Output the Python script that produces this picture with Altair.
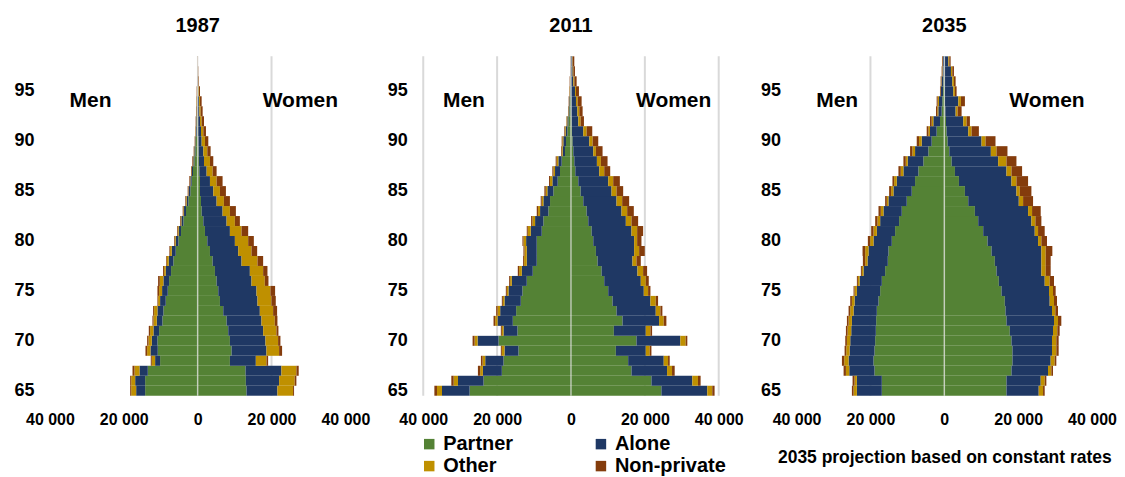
import altair as alt
import pandas as pd

FONT = "Liberation Sans, Arial, sans-serif"

ages = [65, 66, 67, 68, 69, 70, 71, 72, 73, 74, 75, 76, 77, 78, 79, 80, 81,
        82, 83, 84, 85, 86, 87, 88, 89, 90, 91, 92, 93, 94, 95, 96, 97, 98]
categories = ["Partner", "Alone", "Other", "Non-private"]
colors = ["#548235", "#1F3864", "#BF9000", "#843C0C"]
years = ["1987", "2011", "2035"]
x_ticks = [-40000, -20000, 0, 20000, 40000]
y_ticks = [65, 70, 75, 80, 85, 90, 95]

# ---- 1987 ----
men_1987_partner = [14220, 14220, 13500, 10170, 10800, 10890, 10440, 9540, 9270, 8640, 8100, 7740, 7200, 6570, 5940, 5220, 4500, 3870, 3150, 2520, 1980, 1620, 1260, 900, 630, 450, 270, 180, 90, 90, 45, 30, 20, 10]
men_1987_alone = [2430, 2700, 2250, 1350, 1980, 1530, 1530, 1530, 1620, 1530, 1530, 1530, 1440, 1260, 1080, 720, 630, 540, 540, 450, 450, 360, 270, 270, 270, 180, 180, 180, 180, 90, 45, 30, 20, 20]
men_1987_other = [1350, 1080, 1350, 900, 900, 900, 900, 900, 900, 540, 810, 990, 450, 540, 450, 270, 270, 180, 180, 180, 90, 90, 90, 90, 90, 90, 90, 90, 90, 90, 90, 40, 20, 20]
men_1987_nonpriv = [270, 270, 540, 270, 450, 360, 360, 270, 270, 180, 450, 450, 270, 180, 180, 180, 180, 180, 180, 180, 180, 180, 180, 180, 90, 90, 90, 90, 90, 90, 90, 80, 80, 40]
women_1987_partner = [13230, 13050, 12960, 8730, 9180, 8730, 8280, 7830, 6930, 6030, 5580, 5130, 4680, 4050, 3330, 2610, 1980, 1530, 1080, 900, 630, 630, 450, 360, 270, 180, 90, 90, 45, 27, 18, 10, 10, 0]
women_1987_alone = [8370, 9000, 9720, 7020, 9450, 9630, 9450, 9450, 9900, 10170, 10350, 9450, 9450, 7830, 7650, 7470, 6750, 6300, 5670, 4230, 3600, 2700, 1980, 1350, 1260, 900, 810, 540, 405, 333, 162, 80, 40, 30]
women_1987_other = [4230, 4230, 4050, 2880, 3420, 3420, 3600, 3600, 3600, 3780, 3780, 3600, 3600, 4320, 3600, 3600, 3150, 2250, 1980, 1980, 1800, 1800, 1620, 1620, 1080, 900, 630, 450, 360, 270, 180, 90, 40, 30]
women_1987_nonpriv = [270, 450, 630, 450, 810, 630, 540, 720, 1080, 1170, 1260, 990, 1170, 1530, 1530, 1530, 1800, 1350, 1620, 1620, 1620, 1620, 1080, 900, 900, 900, 720, 630, 540, 450, 270, 180, 90, 40]

# ---- 2011 ----
men_2011_partner = [27450, 23670, 18720, 18270, 14220, 19620, 14490, 15750, 14850, 13590, 13140, 11970, 10350, 9270, 9270, 9270, 7920, 7470, 6120, 5670, 4770, 3600, 2970, 2520, 1620, 1350, 990, 720, 450, 270, 180, 90, 45, 27]
men_2011_alone = [7470, 6930, 5130, 4950, 3780, 5670, 3780, 4140, 4320, 4410, 3780, 4050, 2970, 2700, 2700, 2880, 2970, 2250, 2250, 1800, 1620, 1440, 1350, 900, 630, 720, 450, 270, 180, 180, 90, 90, 45, 36]
men_2011_other = [1350, 1170, 720, 720, 720, 810, 450, 630, 720, 450, 450, 450, 720, 720, 630, 720, 810, 720, 540, 450, 450, 630, 450, 450, 270, 270, 180, 180, 90, 90, 90, 90, 45, 27]
men_2011_nonpriv = [720, 630, 630, 450, 270, 540, 270, 450, 360, 270, 270, 270, 360, 270, 270, 270, 270, 360, 360, 270, 360, 270, 270, 270, 180, 180, 180, 90, 90, 90, 90, 90, 90, 90]
women_2011_partner = [24480, 21780, 16380, 15480, 12150, 17730, 11610, 13950, 12330, 11250, 10080, 9000, 8280, 7200, 6750, 6030, 5580, 4680, 4230, 3330, 2610, 1980, 1170, 900, 630, 450, 270, 180, 90, 90, 45, 20, 10, 10]
women_2011_alone = [12420, 11070, 9630, 9630, 8100, 11880, 8640, 9900, 10620, 10260, 9630, 9900, 9720, 9450, 10350, 11070, 10800, 10170, 9450, 9000, 8370, 8100, 6480, 6120, 5400, 4500, 3060, 1800, 1620, 1260, 1035, 610, 440, 350]
women_2011_other = [1350, 1530, 1350, 1170, 1080, 1440, 1260, 1260, 1260, 1440, 1170, 1350, 1530, 1080, 1350, 810, 1530, 1530, 1530, 1530, 1350, 1350, 1350, 1080, 720, 900, 900, 630, 540, 450, 270, 270, 180, 90]
women_2011_nonpriv = [630, 720, 720, 450, 450, 450, 450, 720, 540, 630, 630, 810, 1080, 1170, 1530, 1170, 1620, 1800, 1800, 1890, 1800, 1800, 1620, 1800, 1800, 1530, 1530, 900, 900, 1080, 810, 630, 450, 450]

# ---- 2035 ----
men_2035_partner = [16920, 16920, 18900, 19170, 18900, 18720, 18540, 18450, 18270, 17820, 17370, 16920, 16020, 15300, 15120, 14220, 13320, 12240, 11520, 10170, 8820, 7920, 7020, 5670, 4320, 3420, 2070, 1170, 720, 540, 360, 270, 180, 90]
men_2035_alone = [6750, 6750, 6840, 6750, 6750, 6750, 6660, 6570, 6300, 6480, 6300, 6030, 5850, 5490, 5400, 4950, 4950, 5130, 4950, 4950, 4950, 4950, 4050, 4230, 3600, 2700, 1800, 1800, 900, 900, 540, 450, 270, 270]
men_2035_other = [900, 630, 900, 1170, 900, 900, 990, 900, 900, 720, 630, 450, 450, 630, 900, 900, 900, 720, 720, 450, 630, 720, 720, 540, 720, 720, 450, 450, 270, 360, 90, 90, 90, 90]
men_2035_nonpriv = [450, 540, 630, 630, 450, 450, 450, 450, 450, 450, 270, 270, 270, 630, 720, 630, 630, 630, 630, 450, 540, 450, 630, 630, 630, 630, 450, 450, 360, 270, 180, 180, 180, 180]
women_2035_partner = [16830, 16830, 18180, 18450, 18450, 18180, 17730, 16830, 16560, 16380, 15480, 14760, 14130, 13680, 12780, 11700, 10530, 9180, 8280, 6480, 5580, 3960, 2880, 1980, 1350, 900, 630, 450, 270, 180, 90, 90, 90, 90]
women_2035_alone = [8730, 9270, 9900, 10350, 10710, 10980, 11700, 12870, 12600, 12150, 12870, 12420, 12150, 12600, 13500, 13680, 13950, 14400, 14400, 13680, 13950, 14220, 13950, 12600, 11250, 9180, 5850, 4680, 2790, 3600, 2340, 2070, 1710, 990]
women_2035_other = [1170, 1080, 900, 1080, 1170, 1170, 1170, 1080, 900, 1170, 1080, 1350, 1170, 1170, 1170, 900, 900, 1080, 1080, 1170, 900, 1350, 1350, 2250, 1530, 1080, 900, 900, 540, 720, 450, 450, 360, 270]
women_2035_nonpriv = [450, 450, 450, 450, 630, 630, 630, 900, 720, 810, 720, 1170, 1350, 1350, 1800, 1530, 1800, 1620, 2340, 2700, 3150, 3150, 2880, 2700, 2970, 2700, 1980, 900, 1080, 1080, 450, 450, 450, 360]

# gridlines that are visible in each panel of the original
grid_1987 = [20000]
grid_2011 = [-40000, -20000, 20000, 40000]
grid_2035 = [-20000]

series = {
    "1987": {"Men": [men_1987_partner, men_1987_alone, men_1987_other, men_1987_nonpriv],
             "Women": [women_1987_partner, women_1987_alone, women_1987_other, women_1987_nonpriv]},
    "2011": {"Men": [men_2011_partner, men_2011_alone, men_2011_other, men_2011_nonpriv],
             "Women": [women_2011_partner, women_2011_alone, women_2011_other, women_2011_nonpriv]},
    "2035": {"Men": [men_2035_partner, men_2035_alone, men_2035_other, men_2035_nonpriv],
             "Women": [women_2035_partner, women_2035_alone, women_2035_other, women_2035_nonpriv]},
}
grids = {"1987": grid_1987, "2011": grid_2011, "2035": grid_2035}
notes = {"2035": "2035 projection based on constant rates"}


def table(year):
    rows = []
    for sex, lists in series[year].items():
        sign = -1 if sex == "Men" else 1
        for ci, (cat, vals) in enumerate(zip(categories, lists)):
            for age, v in zip(ages, vals):
                rows.append({"age": age, "sex": sex, "category": cat,
                             "order": ci, "value": sign * v})
    return pd.DataFrame(rows)


def panel(year):
    df = table(year)
    x_axis_kw = dict(values=x_ticks,
                     labelExpr="replace(format(abs(datum.value), ','), ',', ' ')",
                     ticks=False, domain=False, grid=False, labelPadding=16,
                     labelFlush=False, labelOverlap=False,
                     labelFontSize=16, labelFontWeight="bold", labelColor="#000000",
                     labelFont=FONT)
    if year in notes:
        x_axis = alt.Axis(title=notes[year], titleFontSize=17.5, titleFontWeight="bold",
                          titleFont=FONT, titleColor="#000000", titlePadding=21,
                          **x_axis_kw)
    else:
        x_axis = alt.Axis(title=None, **x_axis_kw)

    y_axis = alt.Axis(values=y_ticks, ticks=False, domain=False, grid=False,
                      labelPadding=16, labelFontSize=18, labelFontWeight="bold",
                      labelColor="#000000", labelFont=FONT, title=None,
                      minExtent=37, maxExtent=37)

    xscale = alt.Scale(domain=[-40000, 40000], nice=False)

    grid = alt.Chart(pd.DataFrame({"value": grids[year]})).mark_rule(
        color="#D9D9D9", strokeWidth=2
    ).encode(x=alt.X("value:Q", scale=xscale, axis=x_axis))

    bars = alt.Chart(df).mark_bar().encode(
        x=alt.X("value:Q", stack="zero", scale=xscale, axis=x_axis),
        y=alt.Y("age:O", sort="descending",
                scale=alt.Scale(paddingInner=0, paddingOuter=0), axis=y_axis),
        color=alt.Color("category:N",
                        scale=alt.Scale(domain=categories, range=colors),
                        legend=alt.Legend(title=None, orient="none", legendX=370,
                                          legendY=378.5, columns=2, columnPadding=77,
                                          direction="horizontal",
                                          symbolType="square", symbolSize=110,
                                          symbolStrokeWidth=0, labelFontSize=20,
                                          labelFontWeight="bold",
                                          labelFont=FONT, labelColor="#000000",
                                          labelOffset=4, rowPadding=2)),
        order=alt.Order("order:Q"),
    )

    center = alt.Chart(pd.DataFrame({"value": [0]})).mark_rule(
        color="#E6E6E6", strokeWidth=1.5, opacity=0.7
    ).encode(x=alt.X("value:Q", scale=xscale, axis=x_axis))

    men = alt.Chart(pd.DataFrame({"t": ["Men"]})).mark_text(
        fontSize=21, fontWeight="bold", font=FONT, color="#000000",
        baseline="middle", align="center"
    ).encode(x=alt.datum(-29000), y=alt.datum(94, type="ordinal"), text="t:N")
    women = alt.Chart(pd.DataFrame({"t": ["Women"]})).mark_text(
        fontSize=21, fontWeight="bold", font=FONT, color="#000000",
        baseline="middle", align="center"
    ).encode(x=alt.datum(27800), y=alt.datum(94, type="ordinal"), text="t:N")

    return alt.layer(grid, bars, center, men, women).properties(
        width=296, height=340,
        title=alt.TitleParams(year, fontSize=20, fontWeight="bold", font=FONT,
                              color="#000000", offset=19, anchor="middle"),
    )


chart = alt.hconcat(*[panel(y) for y in years], spacing=78, bounds="flush").properties(
    padding={"left": 5, "top": 8, "right": 0, "bottom": 0}
).configure_view(stroke=None)

chart.save("out.html", embed_options={"renderer": "svg", "actions": False})
